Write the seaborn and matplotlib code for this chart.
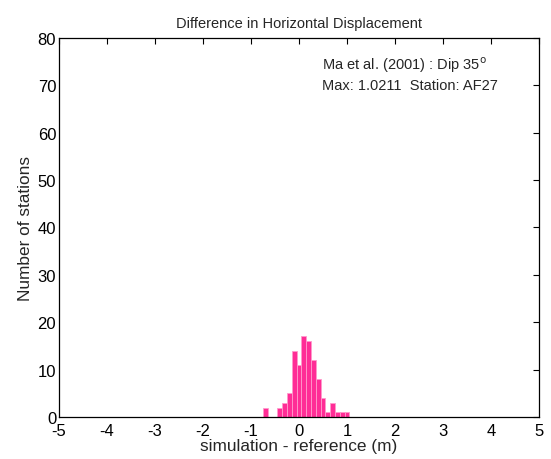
import numpy as np
import pandas as pd
import matplotlib
matplotlib.use("Agg")
import matplotlib.pyplot as plt
import seaborn as sns

# data: histogram of differences (bin centres in m, counts)
bin_centers = [-0.7, -0.6, -0.5, -0.4, -0.3, -0.2, -0.1, 0.0, 0.1, 0.2, 0.3, 0.4, 0.5, 0.6, 0.7, 0.8, 0.9, 1.0]
counts = [2, 0, 0, 2, 3, 5, 14, 11, 17, 16, 12, 8, 4, 1, 3, 1, 1, 1]
x_ticks = [-5, -4, -3, -2, -1, 0, 1, 2, 3, 4, 5]
y_ticks = [0, 10, 20, 30, 40, 50, 60, 70, 80]

sns.set_style("white")
plt.rcParams['font.family'] = ['Liberation Sans', 'DejaVu Sans']
plt.rcParams['axes.unicode_minus'] = False

df = pd.DataFrame({"diff": bin_centers, "n": counts})

fig = plt.figure(figsize=(5.51, 4.6), dpi=100)
ax = fig.add_axes([0.107, 0.0913, 0.871, 0.824])
sns.histplot(data=df, x="diff", weights="n", binwidth=0.1, binrange=(-0.75, 1.05),
             ax=ax, color="#ff2d96", edgecolor="#ff99cc", linewidth=0.6, alpha=1.0)

ax.set_xlim(-5, 5)
ax.set_ylim(0, 80)
ax.set_xticks(x_ticks)
ax.set_yticks(y_ticks)
ax.tick_params(direction="in", top=True, right=True, length=4, width=0.8,
               labelsize=12, colors="black")
ax.tick_params(axis="x", pad=4.5)
ax.tick_params(axis="y", pad=2)
for s in ax.spines.values():
    s.set_color("black")
    s.set_linewidth(0.9)
ax.set_xlabel("simulation - reference (m)", fontsize=12.4, labelpad=0)
ax.set_ylabel("Number of stations", fontsize=12.4, labelpad=3)
ax.set_title("Difference in Horizontal Displacement", fontsize=10.5, pad=8)
ax.text(0.48, 74.5, "Ma et al. (2001) : Dip 35$^{\\mathrm{o}}$", fontsize=10.5, va="center")
ax.text(0.48, 70.1, "Max: 1.0211  Station: AF27", fontsize=10.5, va="center")

fig.savefig("out.png", dpi=100)
